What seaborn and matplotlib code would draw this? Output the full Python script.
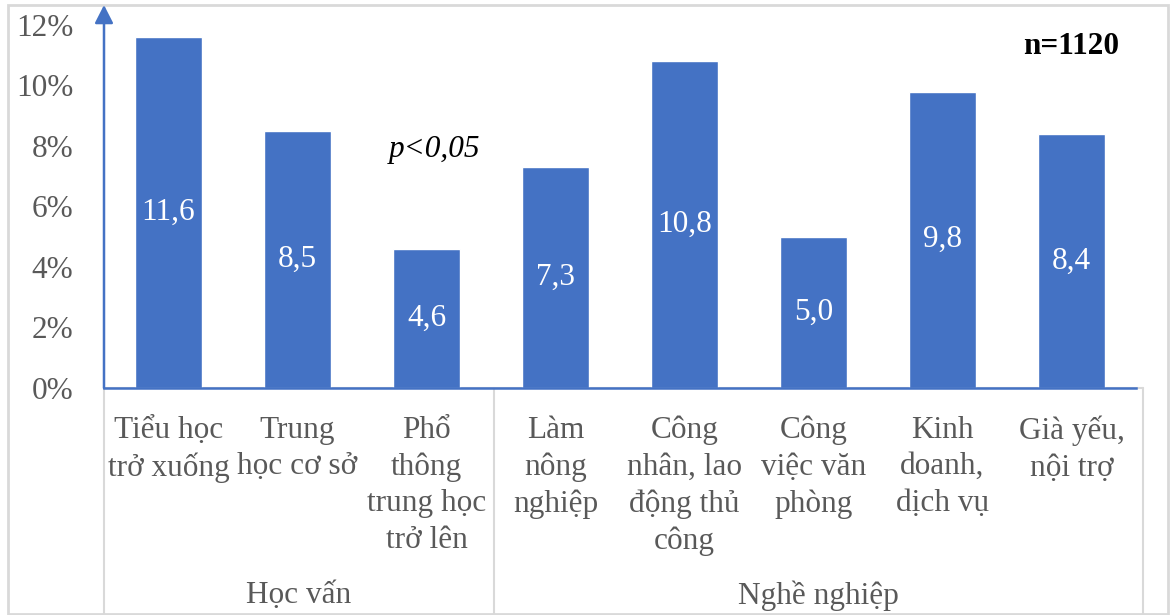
import matplotlib
matplotlib.use("Agg")
import matplotlib.pyplot as plt
from matplotlib.patches import Rectangle
from matplotlib.lines import Line2D
import seaborn as sns

# Data
categories = [
    "Tiểu học\ntrở xuống",
    "Trung\nhọc cơ sở",
    "Phổ\nthông\ntrung học\ntrở lên",
    "Làm\nnông\nnghiệp",
    "Công\nnhân, lao\nđộng thủ\ncông",
    "Công\nviệc văn\nphòng",
    "Kinh\ndoanh,\ndịch vụ",
    "Già yếu,\nnội trợ",
]
values = [11.6, 8.5, 4.6, 7.3, 10.8, 5.0, 9.8, 8.4]
groups = ["Học vấn", "Nghề nghiệp"]
group_sizes = [3, 5]
y_ticks = [0, 2, 4, 6, 8, 10, 12]

sns.set_style("white")
plt.rcParams["font.family"] = ["Liberation Serif", "DejaVu Serif"]

BLUE = "#4472C4"
GREY_TXT = "#595959"
GREY_LINE = "#d9d9d9"
FS = 22.5

W, H = 1174, 615
fig = plt.figure(figsize=(W / 100, H / 100), dpi=100)

def fx(px):
    return px / W

def fy(py):
    return 1 - py / H

ax_left, ax_right, ax_top, ax_bottom = 104, 1136, 5, 388
ax = fig.add_axes([fx(ax_left), fy(ax_bottom), fx(ax_right - ax_left), (ax_bottom - ax_top) / H])
ax.set_zorder(2)
ax.patch.set_alpha(0)

sns.barplot(x=list(range(len(values))), y=values, color=BLUE, width=0.52,
            saturation=1, ax=ax, zorder=2)

ax.set_xlim(-0.5, len(values) - 0.5)
ymax = 12 * (ax_bottom - ax_top) / (ax_bottom - 25)
ax.set_ylim(0, ymax)
ax.set_yticks(y_ticks)
ax.set_yticklabels([f"{t}%" for t in y_ticks], fontsize=FS, color=GREY_TXT)
ax.tick_params(axis="y", length=0, pad=22)

ax.set_xticks(range(len(categories)))
ax.set_xticklabels(categories, fontsize=FS, color=GREY_TXT, linespacing=1.34)
ax.tick_params(axis="x", length=0, pad=20)
ax.set_xlabel("")
ax.set_ylabel("")

for s in ["top", "right", "left"]:
    ax.spines[s].set_visible(False)
ax.spines["bottom"].set_color(BLUE)
ax.spines["bottom"].set_linewidth(1.8)
ax.spines["bottom"].set_zorder(3)

# value axis drawn as an arrow
ax.annotate("", xy=(0, 1.0), xytext=(0, 0), xycoords="axes fraction",
            arrowprops=dict(arrowstyle="-|>,head_length=0.55,head_width=0.28",
                            mutation_scale=20, color=BLUE, lw=1.8,
                            shrinkA=0, shrinkB=0),
            annotation_clip=False)

# value labels inside the bars
ax.bar_label(ax.containers[0], labels=[f"{v:.1f}".replace(".", ",") for v in values],
             label_type="center", color="white", fontsize=FS)

ax.text(2.06, 7.87, "p<0,05", fontsize=FS, style="italic", color="black",
        ha="center", va="center")
ax.text(7.0, 11.3, "n=1120", fontsize=FS, weight="bold", color="black",
        ha="center", va="center")

# grouped category frame
fig.add_artist(Line2D([fx(104), fx(1143)], [fy(388), fy(388)], color=GREY_LINE,
                      lw=1.5, zorder=0))
for px in [104, 494, 1143]:
    fig.add_artist(Line2D([fx(px), fx(px)], [fy(388), fy(615)], color=GREY_LINE,
                          lw=1.5, zorder=0))

bounds = [104, 494, 1143]
for i, g in enumerate(groups):
    cx = (bounds[i] + bounds[i + 1]) / 2
    fig.text(fx(cx), fy(596), g, fontsize=FS, color=GREY_TXT, ha="center", va="center")

# outer chart border
fig.add_artist(Rectangle((fx(8), fy(614)), fx(1168 - 8), (614 - 5) / H,
                         fill=False, edgecolor=GREY_LINE, lw=2, zorder=0))

fig.savefig("out.png", dpi=100)
